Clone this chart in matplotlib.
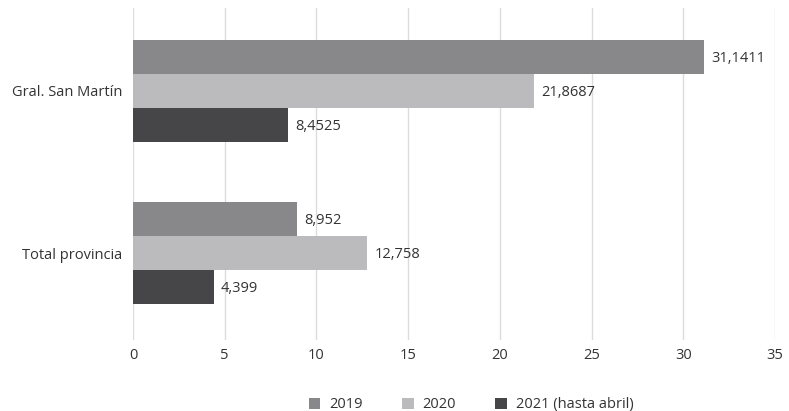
import numpy as np
import matplotlib.pyplot as plt

plt.rcParams['font.family'] = ['Open Sans', 'DejaVu Sans']

# Datos
categorias = ['Gral. San Martín', 'Total provincia']
series = ['2019', '2020', '2021 (hasta abril)']
valores_2019 = [31.1411, 8.952]
valores_2020 = [21.8687, 12.758]
valores_2021 = [8.4525, 4.399]
etiquetas_2019 = ['31,1411', '8,952']
etiquetas_2020 = ['21,8687', '12,758']
etiquetas_2021 = ['8,4525', '4,399']
colores = ['#88888a', '#bbbbbd', '#464648']

fig = plt.figure(figsize=(7.89, 4.11), dpi=100)
ax = fig.add_axes([0.1686, 0.1727, 0.8137, 0.8078])

y = np.arange(len(categorias))
h = 0.21
datos = [(valores_2019, etiquetas_2019), (valores_2020, etiquetas_2020), (valores_2021, etiquetas_2021)]
for i, (vals, etiq) in enumerate(datos):
    pos = y + (i - 1) * h
    ax.barh(pos, vals, height=h, color=colores[i], label=series[i], zorder=2)
    for p, v, t in zip(pos, vals, etiq):
        ax.text(v + 0.4, p + 0.01, t, va='center', ha='left', fontsize=10.5, color='#333333')

ax.set_xlim(0, 35)
ax.set_ylim(1.537, -0.512)
ax.set_xticks(range(0, 36, 5))
ax.set_yticks(y)
ax.set_yticklabels(categorias, fontsize=10.5, color='#333333')
ax.tick_params(axis='x', length=0, pad=6, labelsize=10.5, labelcolor='#333333')
ax.tick_params(axis='y', length=0, pad=8)
ax.grid(axis='x', color='#dcdcdc', linewidth=1, zorder=0)
for s in ax.spines.values():
    s.set_visible(False)

fig.legend(loc='lower center', bbox_to_anchor=(0.597, -0.035), ncol=3, frameon=False,
           fontsize=10.5, handlelength=0.8, handleheight=0.8, columnspacing=2.7,
           handletextpad=0.6, labelcolor='#333333')

fig.savefig('out.png', dpi=100)
